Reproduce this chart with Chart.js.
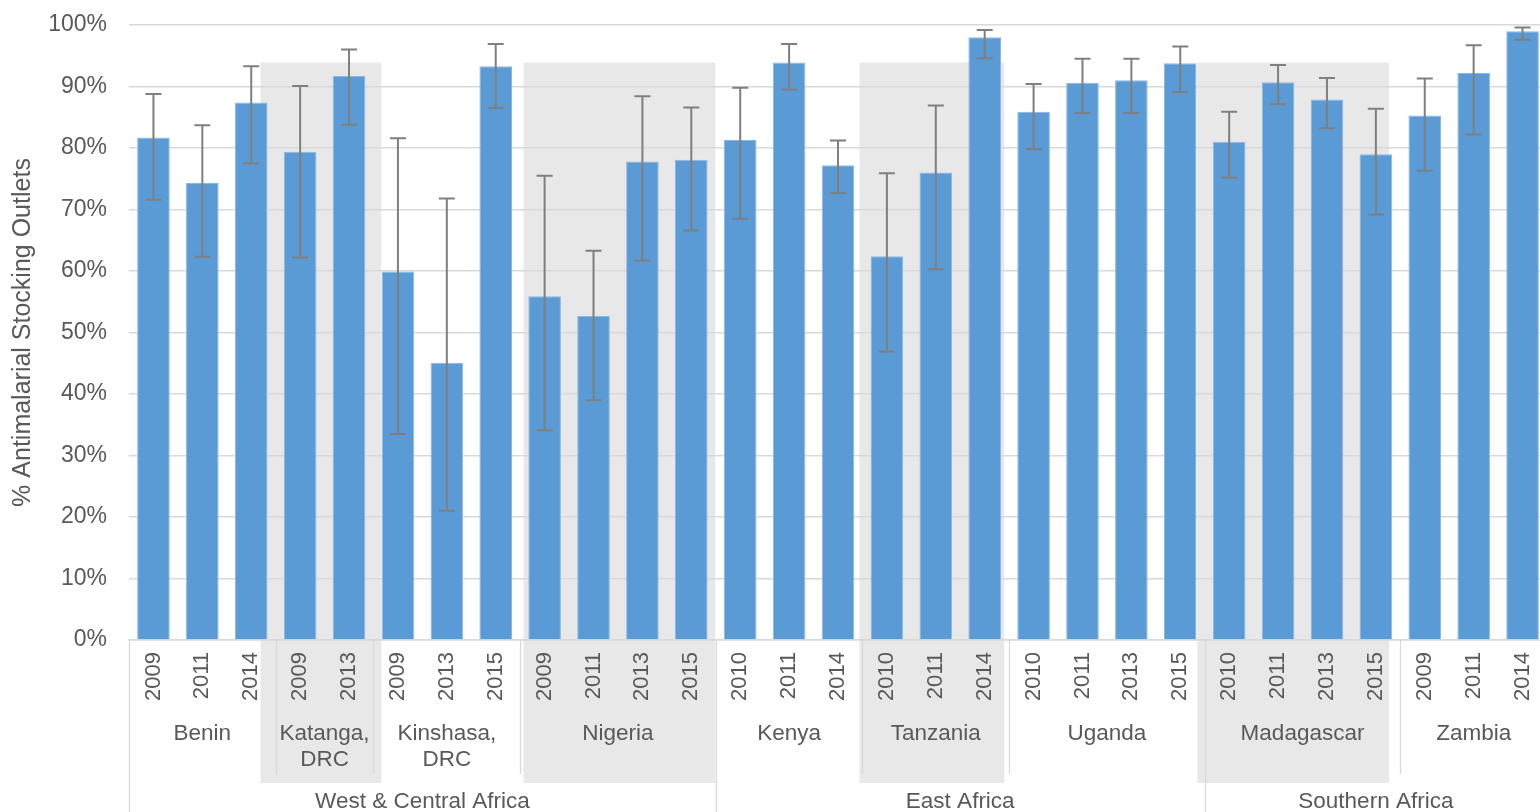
<!DOCTYPE html>
<html>
<head>
<meta charset="utf-8">
<script src="https://cdn.jsdelivr.net/npm/chart.js@4.4.0/dist/chart.umd.min.js"></script>
<style>
  html, body { margin: 0; padding: 0; background: #fff; overflow: hidden; }
  #wrap { width: 1547px; height: 812px; }
</style>
</head>
<body>
<div id="wrap"><canvas id="chart" width="1547" height="812"></canvas></div>
<script>
// Survey years, one bar each
const years = ['2009','2011','2014','2009','2013','2009','2013','2015','2009','2011','2013','2015',
               '2010','2011','2014','2010','2011','2014','2010','2011','2013','2015',
               '2010','2011','2013','2015','2009','2011','2014'];

// Countries (label lines) and how many survey bars each has
const countries = [['Benin'], ['Katanga,', 'DRC'], ['Kinshasa,', 'DRC'], ['Nigeria'],
                   ['Kenya'], ['Tanzania'], ['Uganda'], ['Madagascar'], ['Zambia']];
const countrySurveys = [3, 2, 3, 4, 3, 3, 4, 4, 3];

// Regions and how many countries each contains
const regions = ['West & Central Africa', 'East Africa', 'Southern Africa'];
const regionCountries = [4, 3, 2];

// % of outlets stocking antimalarials, with 95% confidence bounds
const stocking = [81.7, 74.3, 87.4, 79.4, 91.7, 59.9, 45.1, 93.3, 55.9, 52.7, 77.8, 78.1,
                  81.3, 93.9, 77.2, 62.4, 76.0, 98.0, 85.9, 90.6, 91.0, 93.8,
                  81.0, 90.7, 87.9, 79.0, 85.3, 92.2, 99.0];
const ciLow  = [71.6, 62.3, 77.5, 62.2, 83.8, 33.5, 21.0, 86.5, 34.1, 39.0, 61.7, 66.6,
                68.5, 89.5, 72.7, 46.9, 60.3, 94.6, 79.8, 85.7, 85.7, 89.1,
                75.2, 87.1, 83.2, 69.2, 76.3, 82.2, 97.6];
const ciHigh = [88.8, 83.7, 93.3, 90.1, 96.0, 81.6, 71.8, 96.9, 75.5, 63.3, 88.4, 86.6,
                89.8, 96.9, 81.2, 75.9, 86.9, 99.2, 90.4, 94.5, 94.5, 96.5,
                85.9, 93.5, 91.4, 86.4, 91.3, 96.7, 99.6];

const FONT = "'Liberation Sans', Arial, sans-serif";
const TEXT = '#595959';
Chart.defaults.font.family = FONT;
Chart.defaults.color = TEXT;

// Shaded bands behind alternate countries, separators and the country / region label rows
const groupAxis = {
  id: 'groupAxis',
  beforeDraw(chart, args, o) {
    const { ctx, chartArea, scales: { x, y } } = chart;
    ctx.save();
    ctx.fillStyle = o.bandColor;
    let start = 0, b = 0;
    countrySurveys.forEach((n, ci) => {
      if (ci % 2 === 1) {
        const t = o.bandTrim[b++] || [0, 0];
        const x0 = x.getPixelForValue(start - 0.5 + t[0]);
        const x1 = x.getPixelForValue(start + n - 0.5 + t[1]);
        const y0 = y.getPixelForValue(o.bandTop);
        const y1 = chartArea.bottom + o.bandDepth;
        ctx.fillRect(x0, y0, x1 - x0, y1 - y0);
      }
      start += n;
    });
    ctx.restore();
  },
  afterDraw(chart, args, o) {
    const { ctx, chartArea, scales: { x } } = chart;
    const bottom = chartArea.bottom;
    const edge = (k) => x.getPixelForValue(k - 0.5);

    // which country indices open a region
    const regionStarts = new Set();
    let c = 0;
    regionCountries.forEach(n => { regionStarts.add(c); c += n; });

    ctx.save();
    ctx.strokeStyle = o.lineColor;
    ctx.lineWidth = 1.3;
    let start = 0;
    const countryStart = [];
    countrySurveys.forEach((n, ci) => {
      countryStart.push(start);
      const px = Math.round(edge(start)) + 0.5;
      ctx.beginPath();
      ctx.moveTo(px, bottom);
      ctx.lineTo(px, regionStarts.has(ci) ? chart.height : bottom + o.countryLineDepth);
      ctx.stroke();
      start += n;
    });

    ctx.fillStyle = TEXT;
    ctx.font = `${o.fontSize}px ${FONT}`;
    ctx.textAlign = 'center';
    ctx.textBaseline = 'middle';
    countries.forEach((lines, ci) => {
      const s = countryStart[ci], n = countrySurveys[ci];
      const cx = (edge(s) + edge(s + n)) / 2;
      lines.forEach((ln, li) => ctx.fillText(ln, cx, bottom + o.countryY + li * o.lineGap));
    });

    let ri = 0;
    regions.forEach((name, r) => {
      const s = countryStart[ri];
      const last = ri + regionCountries[r] - 1;
      const e = countryStart[last] + countrySurveys[last];
      ctx.fillText(name, (edge(s) + edge(e)) / 2, bottom + o.regionY);
      ri += regionCountries[r];
    });
    ctx.restore();
  }
};

// Confidence-interval whiskers on each bar
const whiskers = {
  id: 'whiskers',
  afterDatasetsDraw(chart, args, o) {
    const { ctx, scales: { y } } = chart;
    const meta = chart.getDatasetMeta(0);
    ctx.save();
    ctx.strokeStyle = o.color;
    ctx.lineWidth = o.width;
    meta.data.forEach((bar, i) => {
      const cx = bar.x;
      const yh = y.getPixelForValue(ciHigh[i]);
      const yl = y.getPixelForValue(ciLow[i]);
      ctx.beginPath();
      ctx.moveTo(cx, yh); ctx.lineTo(cx, yl);
      ctx.moveTo(cx - o.cap, yh); ctx.lineTo(cx + o.cap, yh);
      ctx.moveTo(cx - o.cap, yl); ctx.lineTo(cx + o.cap, yl);
      ctx.stroke();
    });
    ctx.restore();
  }
};

new Chart(document.getElementById('chart'), {
  type: 'bar',
  data: {
    labels: years,
    datasets: [{
      data: stocking,
      backgroundColor: '#5b9bd5',
      borderColor: '#8ab8e4',
      borderWidth: 1,
      barPercentage: 0.667,
      categoryPercentage: 1
    }]
  },
  options: {
    responsive: false,
    devicePixelRatio: 1,
    animation: false,
    layout: { padding: { top: 25, left: 0, right: 0, bottom: 0 } },
    plugins: {
      legend: { display: false },
      tooltip: { enabled: false },
      groupAxis: {
        bandColor: '#e8e8e8',
        bandTop: 93.9,
        bandDepth: 143,
        bandTrim: [[-0.31, 0.16], [0.07, -0.01], [-0.06, -0.1], [-0.15, -0.23]],
        lineColor: '#d9d9d9',
        countryLineDepth: 134,
        fontSize: 22.5,
        countryY: 94,
        lineGap: 26,
        regionY: 162
      },
      whiskers: { color: '#7f7f7f', width: 2, cap: 8 }
    },
    scales: {
      x: {
        grid: { display: false, drawTicks: false },
        border: { display: true, color: '#d9d9d9', width: 1.5 },
        ticks: {
          font: { size: 22 },
          color: TEXT,
          minRotation: 90,
          maxRotation: 90,
          autoSkip: false,
          padding: 12
        },
        afterFit(scale) {
          scale.height = 172;
          scale.paddingLeft = 0;
          scale.paddingRight = 0;
        }
      },
      y: {
        min: 0,
        max: 100,
        grid: { color: '#d9d9d9', lineWidth: 1.5, drawTicks: false },
        border: { display: false },
        ticks: {
          stepSize: 10,
          padding: 22,
          font: { size: 23 },
          color: TEXT,
          callback: v => v + '%'
        },
        title: {
          display: true,
          text: '% Antimalarial Stocking Outlets',
          font: { size: 25 },
          color: TEXT,
          padding: { top: 8, bottom: 0 }
        },
        afterFit(scale) {
          scale.width = 129;
          scale.paddingTop = 0;
          scale.paddingBottom = 0;
        }
      }
    }
  },
  plugins: [groupAxis, whiskers]
});
</script>
</body>
</html>
